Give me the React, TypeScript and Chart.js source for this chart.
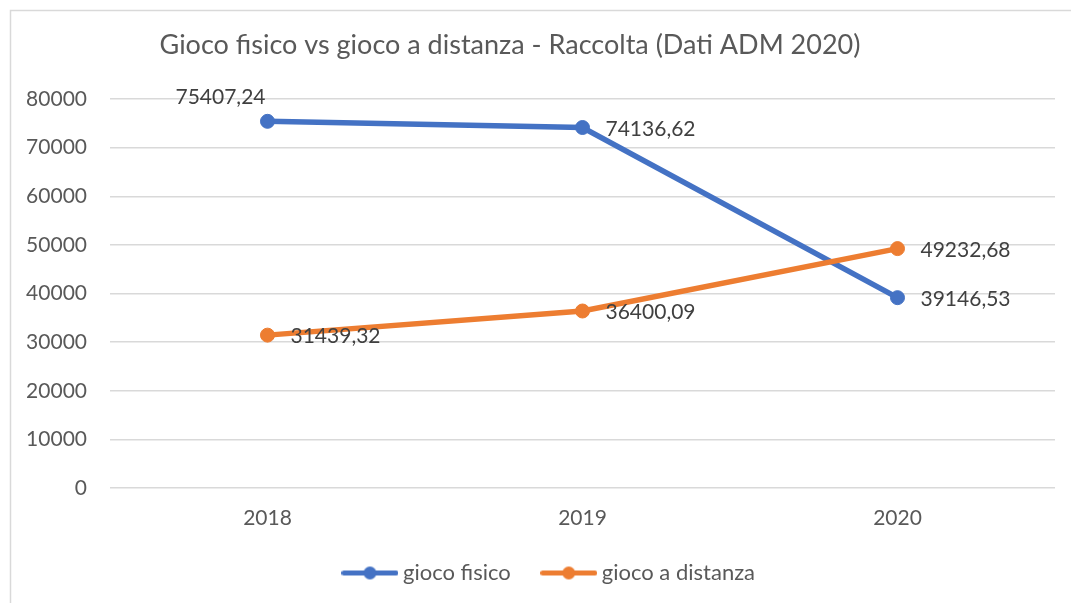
import { useEffect, useRef } from "react";
import { Chart, registerables } from "chart.js";

Chart.register(...registerables);

const categories = ["2018", "2019", "2020"];
const giocoFisico = [75407.24, 74136.62, 39146.53];
const giocoADistanza = [31439.32, 36400.09, 49232.68];
const seriesLabels = ["gioco fisico", "gioco a distanza"];
const chartTitle = "Gioco fisico vs gioco a distanza - Raccolta (Dati ADM 2020)";
const yMin = 0;
const yMax = 80000;
const yStep = 10000;

const BLUE = "#4472C4";
const ORANGE = "#ED7D31";
const FONT = "Lato, 'Open Sans', sans-serif";

const fmt = (v: number) => v.toFixed(2).replace(".", ",");

function makeMarker(color: string) {
  const c = document.createElement("canvas");
  c.width = 57;
  c.height = 15;
  const g = c.getContext("2d")!;
  g.strokeStyle = color;
  g.lineWidth = 5;
  g.lineCap = "round";
  g.beginPath();
  g.moveTo(2.5, 7.5);
  g.lineTo(54.5, 7.5);
  g.stroke();
  g.fillStyle = color;
  g.beginPath();
  g.arc(28.5, 7.5, 6.5, 0, Math.PI * 2);
  g.fill();
  return c;
}

const frame = {
  id: "frame",
  beforeDraw(chart: any) {
    const { ctx } = chart;
    ctx.save();
    ctx.fillStyle = "#ffffff";
    ctx.fillRect(0, 0, chart.width, chart.height);
    ctx.strokeStyle = "#D9D9D9";
    ctx.lineWidth = 1.5;
    ctx.strokeRect(10.5, 10.5, chart.width + 100, chart.height + 100);
    ctx.restore();
  },
};

const legendShift = {
  id: "legendShift",
  afterLayout(chart: any, _a: any, opts: any) {
    const l = chart.legend;
    if (l) {
      l.left += opts.dx;
      l.right += opts.dx;
    }
  },
};

const titlePlugin = {
  id: "customTitle",
  afterDraw(chart: any, _a: any, opts: any) {
    const { ctx } = chart;
    ctx.save();
    ctx.font = `${opts.size}px ${FONT}`;
    ctx.fillStyle = "#595959";
    ctx.textAlign = "center";
    ctx.textBaseline = "middle";
    ctx.fillText(opts.text, opts.x, opts.y);
    ctx.restore();
  },
};

const valueLabels = {
  id: "valueLabels",
  afterDatasetsDraw(chart: any, _a: any, opts: any) {
    const { ctx } = chart;
    ctx.save();
    ctx.font = `21px ${FONT}`;
    ctx.fillStyle = "#404040";
    ctx.textBaseline = "middle";
    chart.data.datasets.forEach((ds: any, di: number) => {
      const meta = chart.getDatasetMeta(di);
      meta.data.forEach((el: any, i: number) => {
        const text = fmt(ds.data[i]);
        const place = opts.placement[di][i];
        if (place === "aboveLeft") {
          ctx.textAlign = "right";
          ctx.fillText(text, el.x - 2, el.y - 24);
        } else {
          ctx.textAlign = "left";
          ctx.fillText(text, el.x + 23, el.y + 1.5);
        }
      });
    });
    ctx.restore();
  },
};

export default function App() {
  const ref = useRef<HTMLCanvasElement>(null);
  useEffect(() => {
    let chart: Chart | null = null;
    let cancelled = false;
    document.body.style.margin = "0";
    const build = () => {
      if (cancelled || !ref.current) return;
      const markers = [makeMarker(BLUE), makeMarker(ORANGE)];
      const colors = [BLUE, ORANGE];
      chart = new Chart(ref.current, {
        type: "line",
        data: {
          labels: categories,
          datasets: [
            {
              label: seriesLabels[0],
              data: giocoFisico,
              borderColor: BLUE,
              backgroundColor: BLUE,
              borderWidth: 5.5,
              pointRadius: 7,
              pointBorderWidth: 1,
              pointBorderColor: BLUE,
              pointBackgroundColor: BLUE,
              tension: 0,
              order: 1,
            },
            {
              label: seriesLabels[1],
              data: giocoADistanza,
              borderColor: ORANGE,
              backgroundColor: ORANGE,
              borderWidth: 5.5,
              pointRadius: 7,
              pointBorderWidth: 1,
              pointBorderColor: ORANGE,
              pointBackgroundColor: ORANGE,
              tension: 0,
              order: 0,
            },
          ],
        },
        options: {
          responsive: false,
          animation: false,
          devicePixelRatio: 1,
          layout: { padding: { left: 12, right: 16, top: 99, bottom: 9 } },
          scales: {
            x: {
              offset: true,
              grid: { display: false, drawTicks: false },
              border: { display: false },
              ticks: { color: "#595959", font: { family: FONT, size: 21 }, padding: 18 },
              afterFit: (s: any) => {
                s.height = 38;
              },
            },
            y: {
              min: yMin,
              max: yMax,
              grid: { color: "#D9D9D9", lineWidth: 1.5, drawTicks: false },
              border: { display: false },
              ticks: {
                stepSize: yStep,
                color: "#595959",
                font: { family: FONT, size: 21 },
                padding: 23,
                callback: (v: any) => String(v),
              },
              afterFit: (s: any) => {
                s.width = 98;
              },
            },
          },
          plugins: {
            title: { display: false },
            tooltip: { enabled: false },
            legend: {
              position: "bottom",
              labels: {
                usePointStyle: true,
                pointStyleWidth: 44,
                padding: 36,
                color: "#595959",
                font: { family: FONT, size: 22 },
                generateLabels: (c: any) =>
                  c.data.datasets.map((ds: any, i: number) => ({
                    text: ds.label,
                    fillStyle: colors[i],
                    strokeStyle: colors[i],
                    lineWidth: 0,
                    pointStyle: markers[i],
                    hidden: false,
                    datasetIndex: i,
                    fontColor: "#595959",
                  })),
              },
            },
            legendShift: { dx: 18 },
            customTitle: { text: chartTitle, x: 510, y: 45, size: 27 },
            valueLabels: {
              placement: [
                ["aboveLeft", "right", "right"],
                ["right", "right", "right"],
              ],
            },
          } as any,
        },
        plugins: [frame, legendShift, titlePlugin, valueLabels],
      });
    };
    const fontsAny: any = (document as any).fonts;
    if (fontsAny && fontsAny.load) {
      Promise.all([fontsAny.load(`21px Lato`), fontsAny.load(`27px Lato`)])
        .catch(() => null)
        .then(build);
    } else {
      build();
    }
    return () => {
      cancelled = true;
      if (chart) chart.destroy();
    };
  }, []);
  return (
    <div style={{ position: "fixed", left: 0, top: 0, width: 1071, height: 603 }}>
      <canvas ref={ref} width={1071} height={603} style={{ display: "block" }} />
    </div>
  );
}
